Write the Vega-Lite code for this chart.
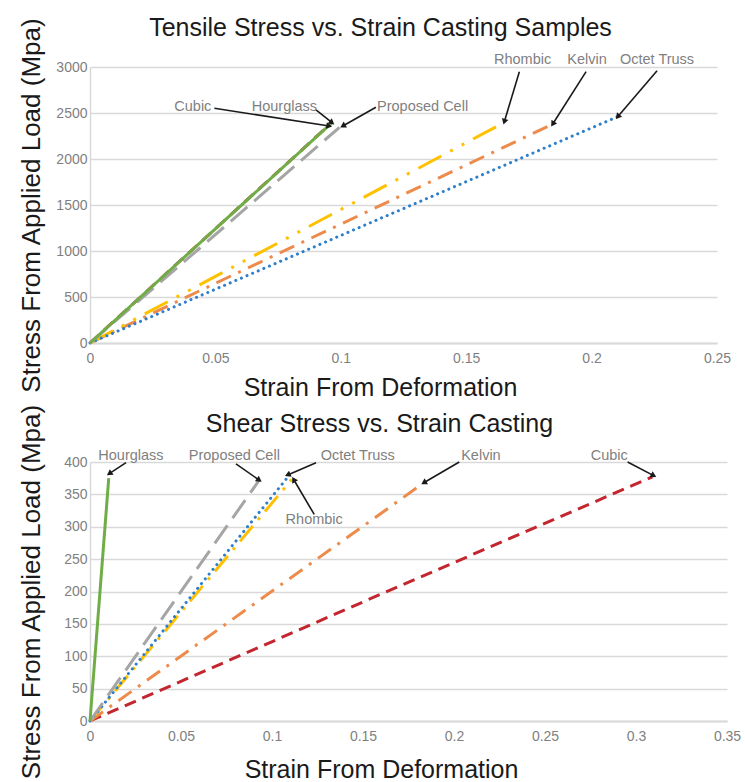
{
  "$schema": "https://vega.github.io/schema/vega-lite/v6.json",
  "background": "white",
  "padding": {"left": 17, "top": 15, "right": 5, "bottom": 0},
  "spacing": 3,
  "config": {
    "font": "Liberation Sans",
    "view": {"stroke": null},
    "axis": {
      "labelColor": "#7F7F7F", "labelFontSize": 14, "ticks": false,
      "domainColor": "#D9D9D9", "gridColor": "#D9D9D9", "gridWidth": 1.5,
      "titleFontSize": 25, "titleFontWeight": "normal", "titleColor": "#1a1a1a",
      "labelFlush": false, "labelOverlap": false
    },
    "axisY": {"titleFontSize": 26}
  },
  "datasets": {
    "t": [
      {"series": "Cubic", "x": 0, "y": 0}, {"series": "Cubic", "x": 0.096, "y": 2385},
      {"series": "Hourglass", "x": 0, "y": 0}, {"series": "Hourglass", "x": 0.0965, "y": 2395},
      {"series": "Proposed Cell", "x": 0, "y": 0}, {"series": "Proposed Cell", "x": 0.0995, "y": 2345},
      {"series": "Rhombic", "x": 0, "y": 0}, {"series": "Rhombic", "x": 0.0323, "y": 467}, {"series": "Rhombic", "x": 0.165, "y": 2395},
      {"series": "Kelvin", "x": 0, "y": 0}, {"series": "Kelvin", "x": 0.0549, "y": 712}, {"series": "Kelvin", "x": 0.1838, "y": 2370},
      {"series": "Octet Truss", "x": 0, "y": 0}, {"series": "Octet Truss", "x": 0.2104, "y": 2460}
    ],
    "tl": [
      {"label": "Cubic", "x": 0.041, "y": 2565},
      {"label": "Hourglass", "x": 0.0775, "y": 2568},
      {"label": "Proposed Cell", "x": 0.1326, "y": 2568},
      {"label": "Rhombic", "x": 0.1725, "y": 3076},
      {"label": "Kelvin", "x": 0.1982, "y": 3076},
      {"label": "Octet Truss", "x": 0.2261, "y": 3076}
    ],
    "ta": [
      {"x": 0.0954, "y": 2359, "x2": 0.0496, "y2": 2551},
      {"x": 0.0965, "y": 2395, "x2": 0.0901, "y2": 2533},
      {"x": 0.1008, "y": 2359, "x2": 0.114, "y2": 2562},
      {"x": 0.1652, "y": 2405, "x2": 0.1712, "y2": 2949},
      {"x": 0.1845, "y": 2380, "x2": 0.1978, "y2": 2949},
      {"x": 0.2104, "y": 2460, "x2": 0.2261, "y2": 2960}
    ],
    "s": [
      {"series": "Cubic", "x": 0, "y": 0}, {"series": "Cubic", "x": 0.1599, "y": 196}, {"series": "Cubic", "x": 0.309, "y": 377},
      {"series": "Kelvin", "x": 0, "y": 0}, {"series": "Kelvin", "x": 0.1471, "y": 295}, {"series": "Kelvin", "x": 0.1815, "y": 364},
      {"series": "Rhombic", "x": 0, "y": 0}, {"series": "Rhombic", "x": 0.1108, "y": 373},
      {"series": "Octet Truss", "x": 0, "y": 0}, {"series": "Octet Truss", "x": 0.1082, "y": 375},
      {"series": "Proposed Cell", "x": 0, "y": 0}, {"series": "Proposed Cell", "x": 0.093, "y": 372},
      {"series": "Hourglass", "x": 0, "y": 0}, {"series": "Hourglass", "x": 0.0103, "y": 375}
    ],
    "sl": [
      {"label": "Hourglass", "x": 0.0225, "y": 409},
      {"label": "Proposed Cell", "x": 0.0793, "y": 409},
      {"label": "Octet Truss", "x": 0.1471, "y": 409},
      {"label": "Rhombic", "x": 0.1232, "y": 310},
      {"label": "Kelvin", "x": 0.2148, "y": 409},
      {"label": "Cubic", "x": 0.2853, "y": 409}
    ],
    "sa": [
      {"x": 0.0106, "y": 382, "x2": 0.0198, "y2": 399},
      {"x": 0.093, "y": 372, "x2": 0.0802, "y2": 397},
      {"x": 0.1086, "y": 380, "x2": 0.1242, "y2": 399},
      {"x": 0.1119, "y": 373, "x2": 0.1232, "y2": 319},
      {"x": 0.1834, "y": 368, "x2": 0.2029, "y2": 400},
      {"x": 0.3097, "y": 379, "x2": 0.2954, "y2": 400}
    ]
  },
  "vconcat": [
    {
      "width": 627, "height": 276,
      "title": {"text": "Tensile Stress vs. Strain Casting Samples", "fontSize": 25, "fontWeight": "normal", "color": "#1a1a1a", "frame": "group", "dx": -23, "offset": -23.5},
      "encoding": {
        "x": {"field": "x", "type": "quantitative", "scale": {"domain": [0, 0.25], "nice": false},
              "axis": {"title": "Strain From Deformation", "values": [0, 0.05, 0.1, 0.15, 0.2, 0.25], "format": ".2~f", "grid": false, "domainWidth": 2, "labelPadding": 8, "titlePadding": 10, "titleX": 290}},
        "y": {"field": "y", "type": "quantitative", "scale": {"domain": [0, 3000], "nice": false},
              "axis": {"title": "Stress From Applied Load (Mpa)", "values": [0, 500, 1000, 1500, 2000, 2500, 3000], "format": "d", "grid": true, "domainWidth": 1.5, "labelPadding": 3, "minExtent": 38, "maxExtent": 38, "titlePadding": 8}}
      },
      "layer": [
        {"data": {"name": "t"}, "transform": [{"filter": "datum.series === 'Cubic'"}], "mark": {"type": "line", "color": "#C3262E", "strokeWidth": 3, "strokeDash": [12, 7]}},
        {"data": {"name": "t"}, "transform": [{"filter": "datum.series === 'Kelvin'"}], "mark": {"type": "line", "color": "#ED8B4C", "strokeWidth": 3, "strokeDash": [16, 8, 3, 8]}},
        {"data": {"name": "t"}, "transform": [{"filter": "datum.series === 'Rhombic'"}], "mark": {"type": "line", "color": "#FFC000", "strokeWidth": 3, "strokeDash": [26, 10, 3, 10, 3, 10]}},
        {"data": {"name": "t"}, "transform": [{"filter": "datum.series === 'Octet Truss'"}], "mark": {"type": "line", "color": "#2E7FCB", "strokeWidth": 3, "strokeDash": [0.1, 6], "strokeCap": "round"}},
        {"data": {"name": "t"}, "transform": [{"filter": "datum.series === 'Proposed Cell'"}], "mark": {"type": "line", "color": "#A5A5A5", "strokeWidth": 3, "strokeDash": [22, 9]}},
        {"data": {"name": "t"}, "transform": [{"filter": "datum.series === 'Hourglass'"}], "mark": {"type": "line", "color": "#70AD47", "strokeWidth": 3}},
        {"data": {"name": "ta"}, "mark": {"type": "rule", "color": "#1a1a1a", "strokeWidth": 1.6}, "encoding": {"x2": {"field": "x2"}, "y2": {"field": "y2"}}},
        {"data": {"name": "ta"}, "transform": [{"calculate": "atan2((datum.x - datum.x2) * 2508, (datum.y - datum.y2) * 0.092) * 180 / PI", "as": "ang"}],
         "mark": {"type": "point", "shape": "triangle-up", "filled": true, "color": "#1a1a1a", "size": 45, "opacity": 1},
         "encoding": {"angle": {"field": "ang", "type": "quantitative", "scale": null}}},
        {"data": {"name": "tl"}, "mark": {"type": "text", "color": "#7F7F7F", "fontSize": 14.5, "align": "center", "baseline": "middle"}, "encoding": {"text": {"field": "label"}}}
      ]
    },
    {
      "width": 637, "height": 259,
      "title": {"text": "Shear Stress vs. Strain Casting", "fontSize": 25, "fontWeight": "normal", "color": "#1a1a1a", "frame": "group", "dx": -29, "offset": -33},
      "encoding": {
        "x": {"field": "x", "type": "quantitative", "scale": {"domain": [0, 0.35], "nice": false},
              "axis": {"title": "Strain From Deformation", "values": [0, 0.05, 0.1, 0.15, 0.2, 0.25, 0.3, 0.35], "format": ".2~f", "grid": false, "domainWidth": 2, "labelPadding": 8, "titlePadding": 14, "titleX": 291}},
        "y": {"field": "y", "type": "quantitative", "scale": {"domain": [0, 400], "nice": false},
              "axis": {"title": "Stress From Applied Load (Mpa)", "values": [0, 50, 100, 150, 200, 250, 300, 350, 400], "format": "d", "grid": true, "domainWidth": 1.5, "labelPadding": 3, "minExtent": 38, "maxExtent": 38, "titlePadding": 8}}
      },
      "layer": [
        {"data": {"name": "s"}, "transform": [{"filter": "datum.series === 'Cubic'"}], "mark": {"type": "line", "color": "#C3262E", "strokeWidth": 3, "strokeDash": [12, 7]}},
        {"data": {"name": "s"}, "transform": [{"filter": "datum.series === 'Kelvin'"}], "mark": {"type": "line", "color": "#ED8B4C", "strokeWidth": 3, "strokeDash": [16, 8, 3, 8]}},
        {"data": {"name": "s"}, "transform": [{"filter": "datum.series === 'Rhombic'"}], "mark": {"type": "line", "color": "#FFC000", "strokeWidth": 3, "strokeDash": [20, 8, 3, 8]}},
        {"data": {"name": "s"}, "transform": [{"filter": "datum.series === 'Octet Truss'"}], "mark": {"type": "line", "color": "#2E7FCB", "strokeWidth": 3, "strokeDash": [0.1, 6], "strokeCap": "round"}},
        {"data": {"name": "s"}, "transform": [{"filter": "datum.series === 'Proposed Cell'"}], "mark": {"type": "line", "color": "#A5A5A5", "strokeWidth": 3, "strokeDash": [22, 9]}},
        {"data": {"name": "s"}, "transform": [{"filter": "datum.series === 'Hourglass'"}], "mark": {"type": "line", "color": "#70AD47", "strokeWidth": 3}},
        {"data": {"name": "sa"}, "mark": {"type": "rule", "color": "#1a1a1a", "strokeWidth": 1.6}, "encoding": {"x2": {"field": "x2"}, "y2": {"field": "y2"}}},
        {"data": {"name": "sa"}, "transform": [{"calculate": "atan2((datum.x - datum.x2) * 1820, (datum.y - datum.y2) * 0.6475) * 180 / PI", "as": "ang"}],
         "mark": {"type": "point", "shape": "triangle-up", "filled": true, "color": "#1a1a1a", "size": 45, "opacity": 1},
         "encoding": {"angle": {"field": "ang", "type": "quantitative", "scale": null}}},
        {"data": {"name": "sl"}, "mark": {"type": "text", "color": "#7F7F7F", "fontSize": 14.5, "align": "center", "baseline": "middle"}, "encoding": {"text": {"field": "label"}}}
      ]
    }
  ]
}
